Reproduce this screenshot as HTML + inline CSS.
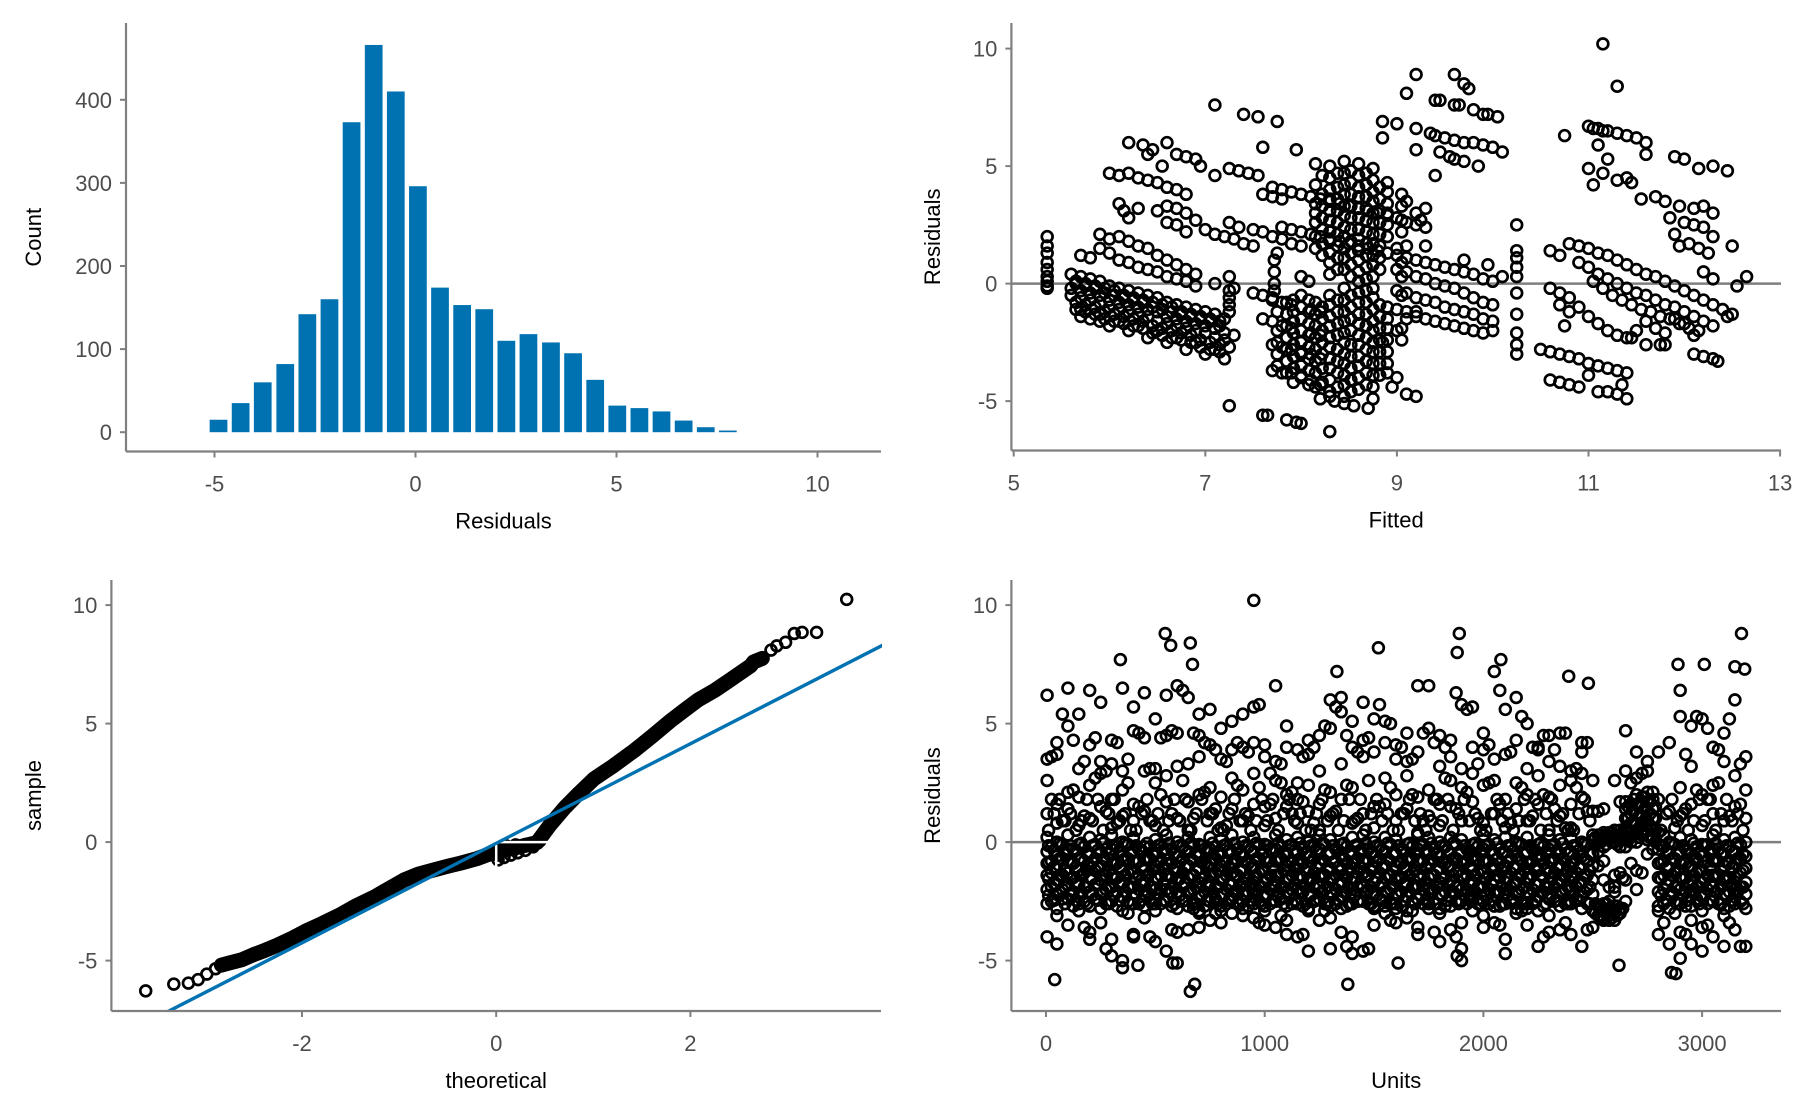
<!DOCTYPE html>
<html><head><meta charset="utf-8"><style>
html,body{margin:0;padding:0;background:#fff;}
svg{display:block;font-family:"Liberation Sans",Arial,sans-serif;}
.tick{fill:#4d4d4d;font-size:22px;}
.title{fill:#000;font-size:22px;}
</style></head><body>
<svg id="chart" width="1800" height="1113" viewBox="0 0 1800 1113" xmlns="http://www.w3.org/2000/svg">
<defs>
<clipPath id="clipQQ"><rect x="112" y="575" width="770" height="436"/></clipPath>
</defs>
</svg>
<script>
// ---------- Histogram data ----------
const histBinCenters = [-4.90,-4.35,-3.80,-3.24,-2.69,-2.14,-1.59,-1.04,-0.49,0.06,0.61,1.16,1.71,2.26,2.81,3.37,3.92,4.47,5.02,5.57,6.12,6.67,7.22,7.77];
const histCounts = [15,35,60,82,142,160,373,466,410,296,174,153,148,110,118,108,95,63,32,29,25,14,6,2];
const histBinWidth = 0.5505;
const histXTicks = [-5,0,5,10];
const histYTicks = [0,100,200,300,400];

// ---------- Fitted vs residuals data (flat [fitted,resid,...] pairs) ----------
const fitColumnLeft = [5.35,2.0,5.35,1.6,5.35,1.3,5.35,0.9,5.35,0.6,5.35,0.3,5.35,0.1,5.35,-0.1,5.35,-0.2];
const fitBandA = [5.6,0.4,5.7,0.3,5.8,0.2,5.9,0.1,6.0,-0.1,6.1,-0.2,6.2,-0.3,6.3,-0.4,6.4,-0.5,6.5,-0.6,6.6,-0.8,6.7,-0.9,6.8,-1.0,6.9,-1.1,7.0,-1.2,7.1,-1.3,7.2,-1.5,
5.6,-0.2,5.7,-0.3,5.8,-0.4,5.9,-0.5,6.0,-0.7,6.1,-0.8,6.2,-0.9,6.3,-1.0,6.4,-1.1,6.5,-1.2,6.6,-1.4,6.7,-1.5,6.8,-1.6,6.9,-1.7,7.0,-1.8,7.1,-1.9,7.2,-2.1,7.3,-2.2,
5.65,-0.8,5.75,-0.9,5.85,-1.0,5.95,-1.2,6.05,-1.3,6.15,-1.4,6.25,-1.5,6.35,-1.6,6.45,-1.8,6.55,-1.9,6.65,-2.0,6.75,-2.1,6.85,-2.2,6.95,-2.4,7.05,-2.5,7.15,-2.6,7.25,-2.7,
5.7,-1.4,5.8,-1.5,5.9,-1.6,6.0,-1.8,6.2,-2.0,6.4,-2.3,6.6,-2.5,6.8,-2.8,7.0,-3.0,7.2,-3.2,
5.65,0.0,5.75,-0.1,5.85,-0.2,5.95,-0.4,6.05,-0.5,6.15,-0.6,6.25,-0.7,6.35,-0.8,6.45,-1.0,6.55,-1.1,6.65,-1.2,6.75,-1.3,6.85,-1.4,6.95,-1.5,7.05,-1.6,7.15,-1.8,
5.7,-1.1,5.9,-1.3,6.1,-1.6,6.3,-1.8,6.5,-2.0,6.7,-2.3,6.9,-2.5,7.1,-2.8,
5.7,1.2,5.8,1.1,5.9,1.5,6.0,1.3,6.1,1.0,6.2,0.9,6.3,0.7,6.4,0.6,6.5,0.5,6.6,0.3,6.7,0.2,6.8,0.1,6.9,-0.1,7.1,0.0,7.3,-0.2,7.5,-0.4,7.7,-0.6,
5.9,2.1,6.0,1.9,6.1,2.0,6.2,1.8,6.3,1.6,6.4,1.5,6.5,1.2,6.6,1.0,6.7,0.8,6.8,0.6,6.9,0.4];
const fitBandA2 = [5.65,0.1,5.75,0.0,5.85,-0.1,5.95,-0.2,6.05,-0.3,6.15,-0.5,6.25,-0.6,6.35,-0.7,6.45,-0.8,6.55,-0.9,6.65,-1.0,6.75,-1.2,6.85,-1.3,6.95,-1.4,7.05,-1.5,7.15,-1.6,
5.6,-0.5,5.7,-0.6,5.8,-0.7,5.9,-0.8,6.0,-1.0,6.1,-1.1,6.2,-1.2,6.3,-1.3,6.4,-1.4,6.5,-1.6,6.6,-1.7,6.7,-1.8,6.8,-1.9,6.9,-2.0,7.0,-2.1,7.1,-2.3,7.2,-2.4,
5.65,-1.1,5.75,-1.2,5.85,-1.3,5.95,-1.5,6.05,-1.6,6.15,-1.7,6.25,-1.8,6.35,-1.9,6.45,-2.1,6.55,-2.2,6.65,-2.3,6.75,-2.4,6.85,-2.5,6.95,-2.7,7.05,-2.8,7.15,-2.9];
const fitUpperLeft = [6.0,4.7,6.1,4.6,6.2,4.7,6.3,4.5,6.4,4.4,6.5,4.3,6.6,4.1,6.7,4.0,6.8,3.8,6.2,6.0,6.35,5.9,6.45,5.7,6.6,6.0,6.7,5.5,6.8,5.4,6.9,5.3,6.95,5.0,7.1,4.6,6.4,5.5,6.55,5.0,
6.1,3.4,6.15,3.1,6.2,2.8,6.3,3.2,6.5,3.1,6.6,3.3,6.7,3.2,6.8,3.0,6.9,2.7,7.0,2.3,7.1,2.1,7.2,2.0,7.3,1.9,7.4,1.7,7.5,1.6,6.6,2.6,6.7,2.5,6.8,2.2,
7.25,4.9,7.35,4.8,7.45,4.7,7.55,4.6,7.6,3.8,7.7,3.7,7.8,3.6,7.1,7.6,7.4,7.2,7.55,7.1,7.75,6.9,7.6,5.8,7.95,5.7,
7.25,2.6,7.35,2.4,7.5,2.3,7.6,2.2,7.7,2.0,7.8,1.9,7.9,1.7,8.0,1.6,7.75,1.3];
const fitMid = [7.7,4.1,7.8,4.0,7.9,3.9,8.0,3.8,8.1,3.7,8.2,3.6,8.3,3.5,8.4,3.4,8.5,3.3,8.6,3.2,8.7,3.1,8.8,3.0,8.9,2.9,9.0,2.8,9.1,2.6,9.2,2.5,
7.8,2.4,7.9,2.3,8.0,2.2,8.1,2.1,8.2,2.0,8.3,1.9,8.4,1.8,8.5,1.7,8.6,1.6,8.7,1.5,8.8,1.4,8.9,1.3,9.0,1.2,9.1,1.1,9.2,1.0,9.3,0.9,9.4,0.8,9.5,0.7,9.6,0.6,9.7,0.5,9.8,0.4,9.9,0.2,10.0,0.1,
7.6,-0.5,7.7,-0.7,7.8,-0.8,7.9,-0.9,8.0,-1.0,8.1,-1.1,8.2,-1.2,
7.6,-1.5,7.7,-1.6,7.8,-1.8,7.9,-1.9,8.0,-2.0,8.1,-2.1,8.2,-2.2,
7.7,-2.6,7.8,-2.7,7.9,-2.8,8.0,-2.9,8.1,-3.0,8.2,-3.2,
7.7,-3.7,7.8,-3.8,7.9,-3.8,8.0,-3.9,8.1,-4.1,8.2,-4.3,
8.9,-3.8,9.0,-4.0,8.95,-4.4,9.1,-4.7,9.2,-4.8,8.85,-2.5,9.0,-2.0,9.1,-1.5,9.2,-1.2,
7.25,-5.2,7.6,-5.6,7.65,-5.6,7.85,-5.8,7.95,-5.9,8.0,-5.95,8.3,-6.3,8.2,-4.9,8.35,-5.0,8.45,-5.1,8.55,-5.2,8.7,-5.3,8.75,-4.9,8.3,-4.8,
7.25,0.3,7.25,-0.3,7.25,-0.6,7.25,-0.9,7.25,-1.2,7.72,1.0,7.72,0.5,7.72,0.0,7.72,-0.3,
10.25,2.5,10.25,1.4,10.25,1.1,10.25,0.7,10.25,0.3,10.25,-0.4,10.25,-1.3,10.25,-2.1,10.25,-2.6,10.25,-3.0,10.1,0.3];
// dense core columns: [fitted, resid, resid, ...]
const fitCoreColumns = [
[7.75,-3.5,-3.0,-2.5,-2.0,-1.2],
[7.85,-3.8,-3.3,-2.8,-2.3,-1.8,-1.3,-0.8],
[7.92,-4.2,-3.6,-3.1,-2.6,-2.1,-1.6,-1.2,-0.7],
[8.0,-4.0,-3.5,-3.0,-2.5,-2.0,-1.5,-1.0,-0.5,0.3],
[8.08,-4.3,-3.7,-3.2,-2.7,-2.2,-1.7,-1.2,-0.7,0.1],
[8.15,-4.4,-3.8,-3.3,-2.8,-2.3,-1.8,-1.3,-0.8,1.5,2.0,2.6,3.0,3.4,4.2,5.1],
[8.22,-4.2,-3.6,-3.0,-2.5,-2.0,-1.5,-1.0,1.2,1.7,2.3,2.8,3.3,3.8,4.6],
[8.3,-4.6,-4.1,-3.6,-3.2,-2.7,-2.3,-1.8,-1.4,-0.9,-0.5,0.4,0.9,1.3,1.8,2.2,2.7,3.1,3.6,4.0,4.5,5.0],
[8.38,-4.4,-3.8,-3.3,-2.8,-2.2,-1.7,-1.2,-0.7,0.6,1.1,1.6,2.1,2.6,3.1,3.6,4.1,4.7],
[8.45,-4.8,-4.3,-3.9,-3.4,-3.0,-2.5,-2.1,-1.6,-1.2,-0.7,-0.2,0.6,1.1,1.5,2.0,2.4,2.9,3.3,3.8,4.2,4.7,5.2],
[8.52,-4.6,-4.1,-3.6,-3.1,-2.6,-2.0,-1.5,-1.0,-0.5,0.3,0.8,1.3,1.8,2.3,2.8,3.3,3.8,4.3,4.8],
[8.6,-4.5,-4.0,-3.5,-3.1,-2.6,-2.2,-1.7,-1.3,-0.8,-0.4,0.1,0.5,1.0,1.4,1.9,2.3,2.8,3.2,3.7,4.1,4.6,5.1],
[8.68,-4.3,-3.8,-3.3,-2.8,-2.3,-1.8,-1.3,-0.8,-0.3,0.2,0.7,1.2,1.7,2.2,2.7,3.2,3.7,4.2,4.7],
[8.75,-4.4,-3.9,-3.4,-2.9,-2.5,-2.0,-1.6,-1.1,-0.6,-0.2,0.3,0.8,1.2,1.7,2.1,2.6,3.0,3.5,3.9,4.4,4.9],
[8.82,-3.9,-3.4,-2.9,-2.4,-1.9,-1.4,-0.9,0.6,1.1,1.6,2.1,2.6,3.1,3.6,4.1],
[8.9,-3.4,-2.9,-2.4,-1.9,-1.5,-1.0,2.0,2.5,3.0,3.4,3.9,4.3],
[9.05,-2.4,-1.9,-0.5,0.3,0.9,2.2,2.7,3.3,3.8]
];
const fitRightMid = [9.1,8.1,9.2,8.9,9.6,8.9,9.7,8.5,9.75,8.3,9.4,7.8,9.45,7.8,9.6,7.6,9.65,7.6,9.8,7.4,9.9,7.2,9.95,7.2,10.05,7.1,8.85,6.9,9.0,6.8,9.2,6.6,9.35,6.4,9.4,6.3,9.5,6.2,9.6,6.1,9.7,6.0,9.8,6.0,9.9,5.9,10.0,5.8,10.1,5.6,8.85,6.2,9.2,5.7,9.45,5.6,9.55,5.4,9.6,5.3,9.7,5.2,9.85,5.0,9.4,4.6,
9.0,0.6,9.1,0.5,9.2,0.3,9.3,0.2,9.4,0.0,9.5,-0.1,9.6,-0.2,9.7,-0.4,9.8,-0.6,9.9,-0.8,10.0,-0.9,
9.0,-0.3,9.1,-0.4,9.2,-0.6,9.3,-0.7,9.4,-0.8,9.5,-1.0,9.6,-1.1,9.7,-1.2,9.8,-1.3,9.9,-1.5,10.0,-1.6,
9.0,-1.1,9.1,-1.2,9.2,-1.4,9.3,-1.5,9.4,-1.6,9.5,-1.7,9.6,-1.8,9.7,-1.9,9.8,-2.0,9.9,-2.1,10.0,-2.0,
9.0,1.5,9.1,1.6,9.3,1.6,9.7,1.0,9.95,0.8,9.1,3.5,9.2,3.0,9.25,2.7,9.3,3.2,9.3,2.4];
const fitRight = [10.5,-2.8,10.6,-2.9,10.7,-3.0,10.8,-3.1,10.9,-3.2,11.0,-3.4,11.1,-3.5,11.2,-3.6,11.3,-3.7,11.4,-3.8,
10.6,-4.1,10.7,-4.2,10.8,-4.3,10.9,-4.4,11.0,-3.9,11.1,-4.6,11.2,-4.6,11.3,-4.7,11.4,-4.9,11.35,-4.3,
10.6,1.4,10.7,1.2,10.8,1.7,10.9,1.6,11.0,1.5,11.1,1.3,11.2,1.2,11.3,1.0,11.4,0.8,11.5,0.6,11.6,0.4,11.7,0.3,11.8,0.1,11.9,-0.1,12.0,-0.3,12.1,-0.5,12.2,-0.7,12.3,-0.9,12.4,-1.1,12.5,-1.3,
10.6,-0.2,10.7,-0.4,10.8,-0.6,10.9,0.9,11.0,0.7,11.1,0.4,11.2,0.2,11.3,0.0,11.4,-0.2,11.5,-0.4,11.6,-0.5,11.7,-0.7,11.8,-0.9,11.9,-1.0,12.0,-1.2,12.1,-1.4,12.2,-1.6,12.3,-1.8,
10.9,-1.0,11.0,-1.4,11.1,-1.7,11.2,-2.0,11.3,-2.2,11.4,-2.3,11.5,-2.0,11.6,-1.6,11.7,-1.9,11.8,-2.1,11.9,-1.5,12.0,-1.7,12.1,-2.2,10.7,-0.9,10.8,-1.2,10.75,-1.8,
12.1,-3.0,12.2,-3.1,12.3,-3.2,12.35,-3.3,11.8,-2.6,
11.0,6.7,11.05,6.6,11.1,6.6,11.15,6.5,11.2,6.5,11.3,6.4,11.4,6.3,11.5,6.2,11.6,6.0,10.75,6.3,11.15,10.2,11.3,8.4,11.1,5.9,11.2,5.3,11.0,4.9,11.05,4.2,11.15,4.7,11.3,4.4,11.4,4.5,11.45,4.3,11.55,3.6,11.6,5.5,11.7,3.7,11.8,3.5,11.9,5.4,12.0,5.3,12.15,4.9,12.3,5.0,12.45,4.8,
11.85,2.8,11.9,2.1,12.0,2.6,12.1,2.5,12.2,2.4,12.3,2.0,11.95,3.3,12.1,3.2,12.2,3.3,12.3,3.0,11.95,1.6,12.05,1.7,12.15,1.5,12.25,1.3,12.5,1.6,12.55,-0.1,12.65,0.3,12.45,-1.4,12.2,0.5,12.3,0.2,11.45,-2.3,11.6,-2.6,11.75,-2.6,
11.05,0.1,11.15,-0.2,11.25,-0.5,11.35,-0.7,11.45,-0.9,11.55,-1.1,11.65,-1.2,11.75,-1.4,11.85,-1.5,11.95,-1.7,12.05,-1.9,12.15,-2.0];
const fitXTicks = [5,7,9,11,13];
const residYTicks = [-5,0,5,10];

// ---------- QQ data ----------
const qqTheoretical = [-3.61,-3.32,-3.17,-3.07,-2.98,-2.89,-2.83,-2.75,-2.62,-2.5,-2.4,-2.26,-2.1,-1.96,-1.8,-1.61,-1.45,-1.25,-1.1,-0.95,-0.8,-0.65,-0.5,-0.36,-0.2,-0.1,0,0.1,0.2,0.3,0.42,0.55,0.71,0.85,1.01,1.2,1.43,1.6,1.79,1.95,2.08,2.25,2.38,2.5,2.62,2.65,2.74,2.83,2.89,2.98,3.07,3.15,3.30,3.61];
const qqSample = [-6.28,-5.99,-5.95,-5.8,-5.57,-5.34,-5.19,-5.1,-4.96,-4.75,-4.6,-4.36,-4.05,-3.75,-3.45,-3.07,-2.7,-2.31,-1.95,-1.6,-1.35,-1.18,-1.02,-0.88,-0.7,-0.55,-0.42,-0.33,-0.24,-0.14,-0.02,0.7,1.47,2.05,2.68,3.2,3.89,4.45,5.1,5.6,6.0,6.4,6.76,7.1,7.44,7.6,7.75,8.1,8.28,8.43,8.8,8.85,8.85,10.24];
const qqWedgeTheo = [0.02,0.02,0.08,0.15,0.22,0.3,0.38,0.1,0.2,0.3,0.4,0.45];
const qqWedgeSample = [-0.75,-0.55,-0.65,-0.55,-0.45,-0.35,-0.2,-0.15,-0.12,-0.1,-0.08,0.05];
const qqLineIntercept = -0.05;
const qqLineSlope = 2.1;
const qqXTicks = [-2,0,2];
const qqYTicks = [-5,0,5,10];

// ---------- Units vs residuals: columns [unit, resid, resid, ...] ----------
const unitColumnsA = [
[5,0.2,-0.4,-0.9,-1.4,-2.0,-2.6,1.2,2.6,3.5,6.2,-4.0],
[50,0.0,-0.6,-1.1,-1.6,-2.2,-2.8,0.8,1.6,3.7,4.2,-4.3,-3.1],
[100,0.3,-0.3,-0.8,-1.3,-1.8,-2.4,1.4,2.1,4.9,6.5,-3.5],
[150,-0.1,-0.7,-1.2,-1.8,-2.3,-2.9,0.7,1.9,3.1,5.4,-2.6],
[200,0.2,-0.5,-1.0,-1.5,-2.1,-2.7,1.0,2.4,4.1,6.4,-3.8,-4.1],
[250,0.1,-0.4,-1.0,-1.6,-2.2,-2.8,1.5,2.9,3.4,5.9,-3.4],
[300,0.3,-0.3,-0.9,-1.4,-1.9,-2.5,0.6,1.8,3.3,4.3,-4.1,-4.8],
[350,0.0,-0.6,-1.2,-1.7,-2.3,-2.9,1.1,2.2,3.0,6.5,-5.0],
[400,0.2,-0.4,-0.8,-1.3,-1.9,-2.6,0.9,1.6,4.7,5.7,-3.9,-4.0],
[450,-0.2,-0.7,-1.2,-1.7,-2.2,-2.7,1.3,3.0,4.4,6.3,-3.2],
[500,0.1,-0.5,-1.0,-1.5,-2.0,-2.6,0.7,2.5,3.1,5.2,-4.2,-2.9],
[550,0.3,-0.3,-0.9,-1.4,-2.0,-2.5,1.7,2.8,4.5,6.2,-4.6],
[600,0.0,-0.6,-1.1,-1.6,-2.1,-2.8,1.0,3.2,4.6,6.6,-3.8,-5.1],
[650,0.2,-0.4,-1.0,-1.5,-2.1,-2.7,0.5,1.7,3.3,6.1,-3.7],
[700,-0.1,-0.6,-1.1,-1.7,-2.3,-2.9,2.0,3.6,4.5,5.4,-3.0,-3.6],
[750,0.2,-0.3,-0.9,-1.4,-1.9,-2.5,1.2,2.3,4.1,5.6,-3.3],
[800,0.1,-0.5,-1.0,-1.6,-2.2,-2.7,0.6,1.9,3.5,4.8,-2.9,-3.4],
[850,0.3,-0.4,-0.9,-1.3,-1.8,-2.4,1.4,2.7,3.9,5.1,-3.0],
[900,0.0,-0.6,-1.2,-1.7,-2.2,-2.8,0.9,2.2,4.0,5.4,-2.5,-3.1],
[950,0.2,-0.4,-1.0,-1.5,-2.0,-2.6,1.6,2.9,4.2,5.7,-3.2],
[1000,-0.1,-0.7,-1.2,-1.7,-2.3,-2.9,0.7,1.5,3.6,4.1,-2.7,-3.5],
[1050,0.3,-0.3,-0.8,-1.4,-1.9,-2.5,1.0,2.6,3.4,6.6,-3.6],
[1100,0.1,-0.5,-1.0,-1.6,-2.1,-2.7,1.5,2.0,4.9,4.0,-3.9,-3.3],
[1150,0.2,-0.4,-0.9,-1.5,-2.0,-2.6,0.8,1.8,3.9,2.5,-4.0],
[1200,0.0,-0.6,-1.1,-1.6,-2.2,-2.8,1.3,2.4,3.7,4.3,-4.6,-2.9],
[1250,0.3,-0.3,-0.9,-1.4,-1.9,-2.4,0.5,1.6,3.0,4.5,-3.3],
[1300,0.1,-0.5,-1.1,-1.6,-2.1,-2.7,1.1,2.1,4.8,6.0,-4.5,-3.2],
[1350,-0.1,-0.6,-1.2,-1.7,-2.3,-2.8,1.8,3.3,5.5,6.1,-3.8],
[1400,0.2,-0.4,-0.9,-1.5,-2.0,-2.6,0.8,2.3,4.0,5.1,-4.0,-4.7],
[1450,0.3,-0.3,-0.8,-1.3,-1.9,-2.5,1.2,3.6,4.3,5.9,-4.6],
[1500,0.0,-0.6,-1.1,-1.7,-2.2,-2.8,0.6,1.5,3.8,5.2,-3.5,-2.7],
[1550,0.2,-0.4,-1.0,-1.5,-2.1,-2.7,1.6,2.7,4.2,5.1,-3.0],
[1600,0.1,-0.5,-1.0,-1.6,-2.2,-2.8,0.9,2.0,3.5,4.1,-2.6,-3.4],
[1650,-0.1,-0.7,-1.2,-1.8,-2.3,-2.9,1.4,2.8,3.4,4.6,-3.2],
[1700,0.3,-0.3,-0.8,-1.4,-1.9,-2.4,0.4,1.9,3.8,6.6,-3.6,-3.9],
[1750,0.2,-0.4,-0.9,-1.5,-2.0,-2.6,1.1,2.2,4.8,6.6,-2.8],
[1800,0.0,-0.6,-1.1,-1.7,-2.2,-2.8,0.7,1.6,3.2,4.5,-4.2,-3.0],
[1850,0.2,-0.5,-1.0,-1.6,-2.1,-2.7,1.5,2.6,3.6,4.3,-3.7],
[1900,0.1,-0.4,-0.9,-1.4,-2.0,-2.5,0.9,2.3,3.1,5.8,-4.5,-3.4],
[1950,-0.1,-0.6,-1.2,-1.7,-2.3,-2.9,1.7,2.9,4.0,5.7,-2.4],
[2000,0.3,-0.3,-0.8,-1.3,-1.9,-2.5,0.8,2.4,3.9,4.6,-3.1,-3.6],
[2050,0.1,-0.5,-1.0,-1.6,-2.1,-2.7,1.2,2.6,3.5,7.2,-3.4],
[2100,0.2,-0.4,-1.0,-1.5,-2.0,-2.6,0.6,1.8,3.7,5.6,-4.7,-4.1],
[2150,0.0,-0.6,-1.1,-1.7,-2.2,-2.8,1.4,2.5,4.3,6.1,-3.0],
[2200,0.2,-0.4,-0.9,-1.5,-2.1,-2.6,0.9,2.0,3.1,5.0,-3.5,-2.8],
[2250,-0.1,-0.6,-1.2,-1.8,-2.3,-2.9,1.6,2.8,3.9,4.0,-4.4],
[2300,0.3,-0.3,-0.8,-1.3,-1.9,-2.4,0.5,1.9,3.4,4.5,-3.8,-3.1],
[2350,0.1,-0.5,-1.0,-1.6,-2.1,-2.7,1.1,2.4,4.6,3.2,-3.7],
[2400,0.2,-0.4,-0.9,-1.4,-2.0,-2.6,0.6,1.6,3.0,2.6,-2.5,-3.9],
[2450,0.0,-0.6,-1.1,-1.7,-2.3,-2.8,1.9,2.9,3.8,4.2,-4.4],
[2500,0.3,0.1,-0.5,-1.0,-1.6,-2.2,1.3,2.6,-2.9,-3.6],
[2550,0.4,0.2,-0.2,-2.6,-2.9,-3.2,-3.3,1.4,-0.8,-1.6],
[2600,0.5,0.3,0.0,-2.7,-3.0,-3.3,2.6,-1.4,-2.1,-1.9],
[2650,1.7,1.4,1.0,0.6,0.2,-0.2,3.0,4.7,-1.6,-2.5],
[2700,2.0,1.6,1.2,0.8,0.4,0.0,2.7,3.8,-1.2,-2.0],
[2750,2.1,1.7,1.3,0.9,0.5,0.1,3.0,3.4,-0.5],
[2800,0.4,-0.3,-0.9,-1.5,-2.1,-2.7,1.8,3.8,-3.9,-2.9],
[2850,0.0,-0.5,-1.1,-1.6,-2.2,-2.8,1.3,4.2,-4.3],
[2900,0.2,-0.4,-0.9,-1.5,-2.0,-2.6,1.1,2.3,5.3,-3.8,-4.9],
[2950,0.1,-0.5,-1.0,-1.6,-2.1,-2.7,1.6,3.2,4.9,-3.3,-4.3],
[3000,-0.1,-0.6,-1.2,-1.7,-2.3,-2.9,0.7,2.0,5.2,-3.6,-4.6],
[3050,0.3,-0.3,-0.8,-1.4,-1.9,-2.5,1.2,2.4,4.0,-4.0],
[3100,0.1,-0.5,-1.0,-1.6,-2.2,-2.8,0.9,3.4,4.6,-4.4,-3.1],
[3150,0.2,-0.4,-0.9,-1.5,-2.0,-2.6,1.5,2.8,6.0,-3.7],
[3200,0.0,-0.6,-1.1,-1.7,-2.2,-2.8,1.0,2.2,3.6,-4.4]
];
const unitColumnsB = [
[25,-0.2,-0.8,-1.3,-1.9,-2.5,1.8,3.6],[75,-0.1,-0.7,-1.4,-2.0,-2.4,0.9,5.4],[125,-0.3,-0.9,-1.5,-2.1,-2.7,2.2,4.3],
[175,-0.2,-0.8,-1.3,-1.9,-2.5,1.1,3.4,-3.6],[225,-0.1,-0.7,-1.2,-1.8,-2.4,2.7,4.4],[275,-0.3,-0.8,-1.4,-2.0,-2.6,1.3,3.0,-4.5],
[325,-0.2,-0.9,-1.5,-2.1,-2.7,0.8,4.2],[375,-0.1,-0.7,-1.3,-1.9,-2.5,2.5,3.5,-3.0],[425,-0.3,-0.8,-1.4,-2.0,-2.6,1.5,4.6],
[475,-0.2,-0.7,-1.3,-1.9,-2.4,0.9,3.1,-4.0],[525,-0.1,-0.8,-1.4,-2.0,-2.6,2.0,4.4],[575,-0.3,-0.9,-1.5,-2.1,-2.7,1.2,4.7,-3.7],
[625,-0.2,-0.7,-1.3,-1.9,-2.5,2.6,6.4],[675,-0.1,-0.8,-1.4,-2.0,-2.6,1.0,4.6,-2.8],[725,-0.3,-0.9,-1.5,-2.1,-2.7,2.1,4.2],
[775,-0.2,-0.7,-1.3,-1.9,-2.4,1.4,3.9,-3.0],[825,-0.1,-0.8,-1.4,-2.0,-2.6,0.7,3.4],[875,-0.3,-0.8,-1.4,-2.0,-2.6,2.4,4.2,-2.2],
[925,-0.2,-0.9,-1.5,-2.1,-2.7,1.1,3.8],[975,-0.1,-0.7,-1.3,-1.9,-2.5,2.3,5.8,-3.4],[1025,-0.3,-0.8,-1.4,-2.0,-2.6,1.6,2.9],
[1075,-0.2,-0.7,-1.3,-1.9,-2.4,2.5,3.3,-3.1],[1125,-0.1,-0.8,-1.4,-2.0,-2.6,1.2,2.1],[1175,-0.3,-0.9,-1.5,-2.1,-2.7,1.7,3.6,-3.9],
[1225,-0.2,-0.7,-1.3,-1.9,-2.5,0.8,4.0],[1275,-0.1,-0.8,-1.4,-2.0,-2.6,2.2,4.9,-2.9],[1325,-0.3,-0.8,-1.4,-2.0,-2.6,1.3,5.7],
[1375,-0.2,-0.9,-1.5,-2.1,-2.7,2.4,4.5,-4.4],[1425,-0.1,-0.7,-1.3,-1.9,-2.5,1.0,3.8],[1475,-0.3,-0.8,-1.4,-2.0,-2.6,2.6,4.4,-4.5],
[1525,-0.2,-0.7,-1.3,-1.9,-2.4,1.5,5.8],[1575,-0.1,-0.8,-1.4,-2.0,-2.6,2.3,5.0,-3.3],[1625,-0.3,-0.9,-1.5,-2.1,-2.7,1.2,4.0],
[1675,-0.2,-0.7,-1.3,-1.9,-2.5,2.0,3.5,-2.9],[1725,-0.1,-0.8,-1.4,-2.0,-2.6,0.9,4.6],[1775,-0.3,-0.8,-1.4,-2.0,-2.6,1.8,4.2,-3.8],
[1825,-0.2,-0.9,-1.5,-2.1,-2.7,2.7,4.0],[1875,-0.1,-0.7,-1.3,-1.9,-2.5,1.4,6.3,-4.0],[1925,-0.3,-0.8,-1.4,-2.0,-2.6,2.1,5.6],
[1975,-0.2,-0.7,-1.3,-1.9,-2.4,1.0,3.3,-2.6],[2025,-0.1,-0.8,-1.4,-2.0,-2.6,2.5,4.1],[2075,-0.3,-0.9,-1.5,-2.1,-2.7,1.6,6.4,-3.5],
[2125,-0.2,-0.7,-1.3,-1.9,-2.5,0.8,3.8],[2175,-0.1,-0.8,-1.4,-2.0,-2.6,2.3,5.3,-2.9],[2225,-0.3,-0.8,-1.4,-2.0,-2.6,1.1,4.0],
[2275,-0.2,-0.9,-1.5,-2.1,-2.7,2.0,4.5,-4.0],[2325,-0.1,-0.7,-1.3,-1.9,-2.5,1.4,3.9],[2375,-0.3,-0.8,-1.4,-2.0,-2.6,0.6,4.6,-3.4],
[2425,-0.2,-0.7,-1.3,-1.9,-2.4,2.3,3.1],[2475,-0.1,-0.8,-1.4,-2.0,-2.6,1.3,4.2,-3.7],[2525,0.3,0.0,-0.4,-2.7,-3.1,1.3,-1.0],
[2575,0.4,0.1,-2.5,-2.8,-3.1,-3.3,-1.9],[2625,0.5,0.2,-0.2,-2.8,-3.0,1.7,-1.3],[2675,1.6,1.2,0.8,0.4,0.0,-0.9,2.5],
[2725,1.9,1.5,1.1,0.7,0.3,-1.3,2.9],[2775,1.8,1.4,1.0,0.6,0.2,-0.3,2.1],[2825,-0.2,-0.8,-1.4,-2.0,-2.6,0.3,-3.4],
[2875,-0.1,-0.7,-1.3,-1.9,-2.5,0.6,-3.0],[2925,-0.3,-0.9,-1.5,-2.1,-2.7,1.4,3.7,-3.9],[2975,-0.2,-0.7,-1.3,-1.9,-2.4,2.2,5.3],
[3025,-0.1,-0.8,-1.4,-2.0,-2.6,1.8,4.8,-3.5],[3075,-0.3,-0.8,-1.4,-2.0,-2.6,2.5,3.9],[3125,-0.2,-0.9,-1.5,-2.1,-2.7,1.1,5.2,-3.4],
[3175,-0.1,-0.7,-1.3,-1.9,-2.5,1.6,3.3,-4.4]
];
const unitColumnsC = [
[12,-0.15,-0.85,-1.55,-2.25,0.5],[37,-0.35,-1.05,-1.75,-2.45,1.2],[62,-0.05,-0.7,-1.4,-2.1,1.8],[87,-0.5,-1.2,-1.9,-2.6,0.9],
[112,-0.15,-0.85,-1.55,-2.25,1.2],[137,-0.35,-1.05,-1.75,-2.45,0.5],[162,-0.05,-0.7,-1.4,-2.1,0.9],[187,-0.5,-1.2,-1.9,-2.6,1.8],
[212,-0.15,-0.85,-1.55,-2.25,0.9],[237,-0.35,-1.05,-1.75,-2.45,1.8],[262,-0.05,-0.7,-1.4,-2.1,0.5],[287,-0.5,-1.2,-1.9,-2.6,1.2],
[312,-0.15,-0.85,-1.55,-2.25,1.8],[337,-0.35,-1.05,-1.75,-2.45,0.9],[362,-0.05,-0.7,-1.4,-2.1,1.2],[387,-0.5,-1.2,-1.9,-2.6,0.5],
[412,-0.15,-0.85,-1.55,-2.25,0.5],[437,-0.35,-1.05,-1.75,-2.45,1.2],[462,-0.05,-0.7,-1.4,-2.1,1.8],[487,-0.5,-1.2,-1.9,-2.6,0.9],
[512,-0.15,-0.85,-1.55,-2.25,1.2],[537,-0.35,-1.05,-1.75,-2.45,0.5],[562,-0.05,-0.7,-1.4,-2.1,0.9],[587,-0.5,-1.2,-1.9,-2.6,1.8],
[612,-0.15,-0.85,-1.55,-2.25,0.9],[637,-0.35,-1.05,-1.75,-2.45,1.8],[662,-0.05,-0.7,-1.4,-2.1,0.5],[687,-0.5,-1.2,-1.9,-2.6,1.2],
[712,-0.15,-0.85,-1.55,-2.25,1.8],[737,-0.35,-1.05,-1.75,-2.45,0.9],[762,-0.05,-0.7,-1.4,-2.1,1.2],[787,-0.5,-1.2,-1.9,-2.6,0.5],
[812,-0.15,-0.85,-1.55,-2.25,0.5],[837,-0.35,-1.05,-1.75,-2.45,1.2],[862,-0.05,-0.7,-1.4,-2.1,1.8],[887,-0.5,-1.2,-1.9,-2.6,0.9],
[912,-0.15,-0.85,-1.55,-2.25,1.2],[937,-0.35,-1.05,-1.75,-2.45,0.5],[962,-0.05,-0.7,-1.4,-2.1,0.9],[987,-0.5,-1.2,-1.9,-2.6,1.8],
[1012,-0.15,-0.85,-1.55,-2.25,0.9],[1037,-0.35,-1.05,-1.75,-2.45,1.8],[1062,-0.05,-0.7,-1.4,-2.1,0.5],[1087,-0.5,-1.2,-1.9,-2.6,1.2],
[1112,-0.15,-0.85,-1.55,-2.25,1.8],[1137,-0.35,-1.05,-1.75,-2.45,0.9],[1162,-0.05,-0.7,-1.4,-2.1,1.2],[1187,-0.5,-1.2,-1.9,-2.6,0.5],
[1212,-0.15,-0.85,-1.55,-2.25,0.5],[1237,-0.35,-1.05,-1.75,-2.45,1.2],[1262,-0.05,-0.7,-1.4,-2.1,1.8],[1287,-0.5,-1.2,-1.9,-2.6,0.9],
[1312,-0.15,-0.85,-1.55,-2.25,1.2],[1337,-0.35,-1.05,-1.75,-2.45,0.5],[1362,-0.05,-0.7,-1.4,-2.1,0.9],[1387,-0.5,-1.2,-1.9,-2.6,1.8],
[1412,-0.15,-0.85,-1.55,-2.25,0.9],[1437,-0.35,-1.05,-1.75,-2.45,1.8],[1462,-0.05,-0.7,-1.4,-2.1,0.5],[1487,-0.5,-1.2,-1.9,-2.6,1.2],
[1512,-0.15,-0.85,-1.55,-2.25,1.8],[1537,-0.35,-1.05,-1.75,-2.45,0.9],[1562,-0.05,-0.7,-1.4,-2.1,1.2],[1587,-0.5,-1.2,-1.9,-2.6,0.5],
[1612,-0.15,-0.85,-1.55,-2.25,0.5],[1637,-0.35,-1.05,-1.75,-2.45,1.2],[1662,-0.05,-0.7,-1.4,-2.1,1.8],[1687,-0.5,-1.2,-1.9,-2.6,0.9],
[1712,-0.15,-0.85,-1.55,-2.25,1.2],[1737,-0.35,-1.05,-1.75,-2.45,0.5],[1762,-0.05,-0.7,-1.4,-2.1,0.9],[1787,-0.5,-1.2,-1.9,-2.6,1.8],
[1812,-0.15,-0.85,-1.55,-2.25,0.9],[1837,-0.35,-1.05,-1.75,-2.45,1.8],[1862,-0.05,-0.7,-1.4,-2.1,0.5],[1887,-0.5,-1.2,-1.9,-2.6,1.2],
[1912,-0.15,-0.85,-1.55,-2.25,1.8],[1937,-0.35,-1.05,-1.75,-2.45,0.9],[1962,-0.05,-0.7,-1.4,-2.1,1.2],[1987,-0.5,-1.2,-1.9,-2.6,0.5],
[2012,-0.15,-0.85,-1.55,-2.25,0.5],[2037,-0.35,-1.05,-1.75,-2.45,1.2],[2062,-0.05,-0.7,-1.4,-2.1,1.8],[2087,-0.5,-1.2,-1.9,-2.6,0.9],
[2112,-0.15,-0.85,-1.55,-2.25,1.2],[2137,-0.35,-1.05,-1.75,-2.45,0.5],[2162,-0.05,-0.7,-1.4,-2.1,0.9],[2187,-0.5,-1.2,-1.9,-2.6,1.8],
[2212,-0.15,-0.85,-1.55,-2.25,0.9],[2237,-0.35,-1.05,-1.75,-2.45,1.8],[2262,-0.05,-0.7,-1.4,-2.1,0.5],[2287,-0.5,-1.2,-1.9,-2.6,1.2],
[2312,-0.15,-0.85,-1.55,-2.25,1.8],[2337,-0.35,-1.05,-1.75,-2.45,0.9],[2362,-0.05,-0.7,-1.4,-2.1,1.2],[2387,-0.5,-1.2,-1.9,-2.6,0.5],
[2412,-0.15,-0.85,-1.55,-2.25,0.5],[2437,-0.35,-1.05,-1.75,-2.45,1.2],[2462,-0.05,-0.7,-1.4,-2.1,1.8],[2487,-0.5,-1.2,-1.9,-2.6,0.9],
[2512,0.2,-0.1,-2.6,-3.0],[2537,0.3,0.0,-2.7,-3.1],[2562,0.2,-0.1,-2.6,-3.0],[2587,0.4,0.0,-2.9,-3.2],[2612,0.3,-0.1,-2.7,-3.1],[2637,0.4,0.1,-2.8,-1.5],
[2662,1.5,1.0,0.5,0.1],[2687,1.8,1.3,0.8,0.3],[2712,1.6,1.1,0.6,0.2],[2737,1.9,1.4,0.9,0.4],[2762,1.7,1.2,0.7,0.2],[2787,1.5,1.0,0.5,0.0],
[2812,-0.15,-0.85,-1.55,-2.25,0.5],[2837,-0.35,-1.05,-1.75,-2.45,1.2],[2862,-0.05,-0.7,-1.4,-2.1,1.8],[2887,-0.5,-1.2,-1.9,-2.6,0.9],
[2912,-0.15,-0.85,-1.55,-2.25,1.2],[2937,-0.35,-1.05,-1.75,-2.45,0.5],[2962,-0.05,-0.7,-1.4,-2.1,0.9],[2987,-0.5,-1.2,-1.9,-2.6,1.8],
[3012,-0.15,-0.85,-1.55,-2.25,0.9],[3037,-0.35,-1.05,-1.75,-2.45,1.8],[3062,-0.05,-0.7,-1.4,-2.1,0.5],[3087,-0.5,-1.2,-1.9,-2.6,1.2],
[3112,-0.15,-0.85,-1.55,-2.25,1.8],[3137,-0.35,-1.05,-1.75,-2.45,0.9],[3162,-0.05,-0.7,-1.4,-2.1,1.2],[3187,-0.5,-1.2,-1.9,-2.6,0.5]
];
const unitOutliers = [950,10.2,545,8.8,570,8.3,660,8.4,670,7.5,1890,8.8,1880,8.0,1520,8.2,3180,8.8,340,7.7,1330,7.2,2080,7.7,2390,7.0,2480,6.7,2890,7.5,3010,7.5,3150,7.4,3195,7.3,2900,6.4,40,-5.8,660,-6.3,680,-6.0,1380,-6.0,2620,-5.2,2860,-5.5,2880,-5.55,350,-5.3,420,-5.2,580,-5.1,1610,-5.1,1900,-5.0,1880,-4.8];
const unitXTicks = [0,1000,2000,3000];

// ---------- scales ----------
const hx = v => 415.5 + v * 40.2;
const hy = c => 432.2 - c * 0.831;
const fx = v => 1013.7 + (v - 5) * 95.8;
const fy = r => 283.6 - r * 23.5;
const qx = t => 496.2 + t * 97.1;
const qy = s => 842.1 - s * 23.7;
const ux = u => 1046 + u * 0.2187;
const uy = r => 842.1 - r * 23.7;

const NS = 'http://www.w3.org/2000/svg';
const svg = document.getElementById('chart');
function mk(tag, attrs, parent) {
  const e = document.createElementNS(NS, tag);
  for (const k in attrs) e.setAttribute(k, attrs[k]);
  (parent || svg).appendChild(e);
  return e;
}
const AX = '#7f7f7f';

function axes(name, box, xt, xs, yt, ys, xlabel, ylabel) {
  const g = mk('g', {});
  
  
  const xl = mk('line', {x1: box.x0, x2: box.x1, y1: box.yb, y2: box.yb, stroke: AX, 'stroke-width': 2.2}, g);
  
  
  const yl = mk('line', {x1: box.x0, x2: box.x0, y1: box.yt, y2: box.yb, stroke: AX, 'stroke-width': 2.2}, g);
  
  
  xt.forEach(v => {
    const x = xs(v);
    const tk = mk('line', {x1: x, x2: x, y1: box.yb, y2: box.yb + 6, stroke: AX, 'stroke-width': 2}, g);
    
    
    const t = mk('text', {x: x, y: box.yb + 40, 'text-anchor': 'middle', class: 'tick'}, g);
    t.textContent = v;
    
    
  });
  yt.forEach(v => {
    const y = ys(v);
    const tk = mk('line', {x1: box.x0 - 6, x2: box.x0, y1: y, y2: y, stroke: AX, 'stroke-width': 2}, g);
    
    
    const t = mk('text', {x: box.x0 - 14, y: y + 8, 'text-anchor': 'end', class: 'tick'}, g);
    t.textContent = v;
    
    
  });
  const xtl = mk('text', {x: (box.x0 + box.x1) / 2, y: box.yb + 77, 'text-anchor': 'middle', class: 'title'}, g);
  xtl.textContent = xlabel;
  
  
  const yc = (box.yt + box.yb) / 2;
  const ytl = mk('text', {x: box.ylx, y: yc, 'text-anchor': 'middle', class: 'title', transform: 'rotate(-90 ' + box.ylx + ' ' + yc + ')'}, g);
  ytl.textContent = ylabel;
  
  
}
function pt(g, x, y, nm) {
  const c = mk('circle', {cx: x.toFixed(1), cy: y.toFixed(1), r: 5.4, fill: 'none', stroke: '#000', 'stroke-width': 2.7}, g);
  
  
}

// ---------- Panel 1: histogram ----------
const hBox = {x0: 126, x1: 881, yt: 23, yb: 451.5, ylx: 41};
const hg = mk('g', {});


histBinCenters.forEach((c, i) => {
  const xl = hx(c - histBinWidth / 2), xr = hx(c + histBinWidth / 2);
  const y = hy(histCounts[i]);
  const b = mk('rect', {x: xl + 2.2, y: y, width: xr - xl - 4.4, height: hy(0) - y, fill: '#0072B2'}, hg);
  
  
});
axes('histogram', hBox, histXTicks, hx, histYTicks, hy, 'Residuals', 'Count');

// ---------- Panel 2: fitted vs residuals ----------
const fBox = {x0: 1011.4, x1: 1781, yt: 23, yb: 450.5, ylx: 940};
const zf = mk('line', {x1: fBox.x0, x2: fBox.x1, y1: fy(0), y2: fy(0), stroke: AX, 'stroke-width': 2.5});


const fg = mk('g', {});


[fitColumnLeft, fitBandA, fitBandA2, fitUpperLeft, fitMid, fitRightMid, fitRight].forEach(arr => {
  for (let i = 0; i < arr.length; i += 2) pt(fg, fx(arr[i]), fy(arr[i + 1]), 'fitted-point');
});
fitCoreColumns.forEach(col => {
  for (let i = 1; i < col.length; i++) pt(fg, fx(col[0]), fy(col[i]), 'fitted-point');
});
axes('fitted', fBox, fitXTicks, fx, residYTicks, fy, 'Fitted', 'Residuals');

// ---------- Panel 3: QQ ----------
const qBox = {x0: 111.4, x1: 881, yt: 580, yb: 1011, ylx: 41};
const qg = mk('g', {'clip-path': 'url(#clipQQ)'});


let d = '';
for (let i = 6; i <= 46; i++) d += (d ? 'L' : 'M') + qx(qqTheoretical[i]).toFixed(1) + ',' + qy(qqSample[i]).toFixed(1);
const band = mk('path', {d: d, fill: 'none', stroke: '#000', 'stroke-width': 15, 'stroke-linejoin': 'round', 'stroke-linecap': 'round'}, qg);


qqTheoretical.forEach((t, i) => pt(qg, qx(t), qy(qqSample[i]), 'qq-point'));
qqWedgeTheo.forEach((t, i) => pt(qg, qx(t), qy(qqWedgeSample[i]), 'qq-point'));
const wh = mk('line', {x1: qBox.x0, x2: qBox.x1, y1: qy(0), y2: qy(0), stroke: '#fff', 'stroke-width': 2.5}, qg);


const wv = mk('line', {x1: qx(0), x2: qx(0), y1: qBox.yt, y2: qBox.yb, stroke: '#fff', 'stroke-width': 2.5}, qg);


const tA = -3.6, tB = 4.2;
const ql = mk('line', {x1: qx(tA), y1: qy(qqLineIntercept + qqLineSlope * tA), x2: qx(tB), y2: qy(qqLineIntercept + qqLineSlope * tB), stroke: '#0072B2', 'stroke-width': 3.4}, qg);


axes('qq', qBox, qqXTicks, qx, qqYTicks, qy, 'theoretical', 'sample');

// ---------- Panel 4: units vs residuals ----------
const uBox = {x0: 1011.4, x1: 1781, yt: 580, yb: 1011, ylx: 940};
const zu = mk('line', {x1: uBox.x0, x2: uBox.x1, y1: uy(0), y2: uy(0), stroke: AX, 'stroke-width': 2.5});


const ug = mk('g', {});


[unitColumnsA, unitColumnsB, unitColumnsC].forEach(cols => cols.forEach(col => {
  for (let i = 1; i < col.length; i++) pt(ug, ux(col[0]), uy(col[i]), 'units-point');
}));
for (let i = 0; i < unitOutliers.length; i += 2) pt(ug, ux(unitOutliers[i]), uy(unitOutliers[i + 1]), 'units-point');
axes('units', uBox, unitXTicks, ux, residYTicks, uy, 'Units', 'Residuals');
</script>
</body></html>
